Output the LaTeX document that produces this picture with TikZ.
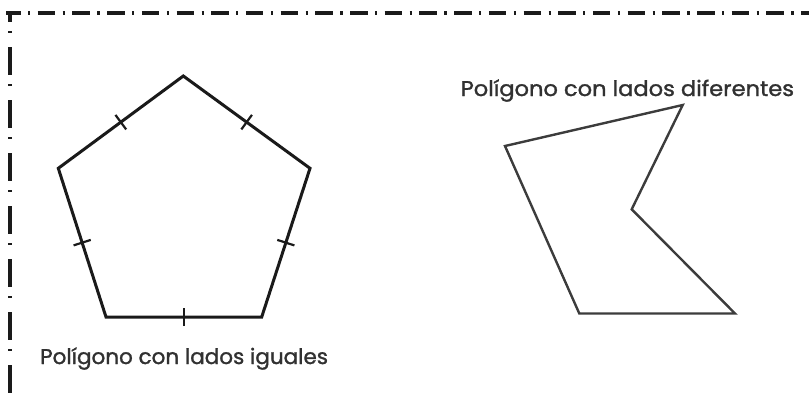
\documentclass[tikz,border=0pt]{standalone}
\usepackage{fontspec}
\usepackage{graphicx}
\setmainfont{Poppins}[FakeBold=1.3]
\usetikzlibrary{calc}
\definecolor{ink}{HTML}{1A1A1A}
\tikzset{
  frame/.style={line width=3.6pt, draw=ink},
  regular/.style={line width=3pt, draw=ink, line join=miter},
  irregular/.style={line width=2.4pt, draw=ink!85, line join=miter},
  tick/.style={line width=2.2pt, draw=ink},
  caption/.style={font=\fontsize{21.3}{24}\selectfont, text=ink!90, inner sep=0pt, anchor=base west}
}
\begin{document}
\begin{tikzpicture}[x=1pt,y=-1pt]
\useasboundingbox (0,0) rectangle (809,394);
% frame
\coordinate (fc) at (10,13);
\coordinate (ftl) at (6,13);
\coordinate (fr) at (812,13);
\coordinate (fb) at (10,398);
\draw[frame, dash pattern=on 17.5pt off 7.5pt on 2.2pt off 7.5pt, dash phase=3pt] (ftl) -- (fr);
\draw[frame, dash pattern=on 28pt off 9pt on 2.2pt off 13.8pt, dash phase=19pt] (fc) -- (fb);
% regular pentagon
\coordinate (p1) at (183.3,76);
\coordinate (p2) at (310,168.3);
\coordinate (p3) at (261.7,317);
\coordinate (p4) at (106,317);
\coordinate (p5) at (58.3,168.3);
\draw[regular] (p1) -- (p2) -- (p3) -- (p4) -- (p5) -- cycle;
\foreach \a/\b in {p1/p2,p2/p3,p3/p4,p4/p5,p5/p1}{
  \draw[tick] ($(\a)!0.5!(\b)!9pt!90:(\b)$) -- ($(\a)!0.5!(\b)!9pt!-90:(\b)$);
}
% irregular polygon
\coordinate (q1) at (505,146);
\coordinate (q2) at (682.7,105);
\coordinate (q3) at (631.7,209.3);
\coordinate (q4) at (735,313.5);
\coordinate (q5) at (579.3,313.5);
\draw[irregular] (q1) -- (q2) -- (q3) -- (q4) -- (q5) -- cycle;
% captions
\node[caption] (capA) at (40,364) {\scalebox{1.01}[1]{Polígono con lados iguales}};
\node[caption] (capB) at (460.5,96) {\scalebox{1.06}[1]{Polígono con lados diferentes}};
\end{tikzpicture}
\end{document}
